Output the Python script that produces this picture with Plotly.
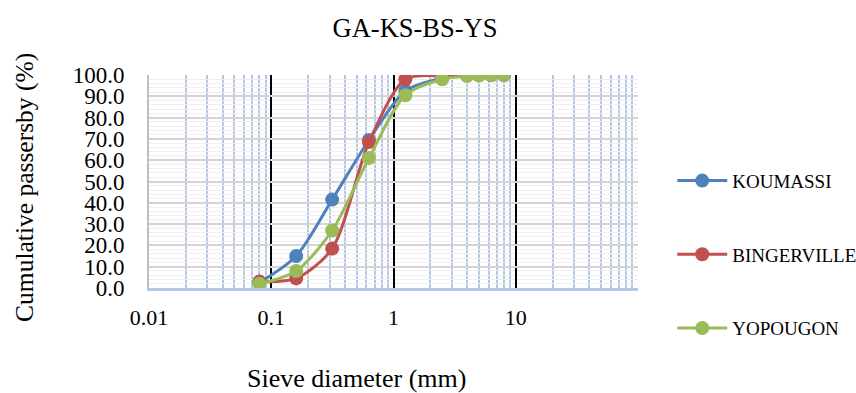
import plotly.graph_objects as go

sieve_mm = [0.08, 0.16, 0.315, 0.63, 1.25, 2.5, 4, 5, 6.3, 8]
koumassi = [2.5, 15.0, 41.5, 69.5, 92.5, 98.5, 99.8, 100.0, 100.0, 100.0]
bingerville = [3.0, 4.5, 18.5, 68.5, 98.0, 99.7, 100.0, 100.0, 100.0, 100.0]
yopougon = [2.0, 8.0, 27.0, 61.0, 90.5, 98.0, 99.5, 99.8, 100.0, 100.0]

series_names = ["KOUMASSI", "BINGERVILLE", "YOPOUGON"]
series_colors = ["#4F81BD", "#C0504D", "#9BBB59"]
x_tickvals = [0.01, 0.1, 1, 10]
x_ticktext = ["0.01", "0.1", "1", "10"]

FONT = "Liberation Serif, Times New Roman, serif"

fig = go.Figure()
for i, (name, vals, col) in enumerate(zip(series_names, [koumassi, bingerville, yopougon], series_colors)):
    fig.add_trace(go.Scatter(
        x=sieve_mm, y=vals, name=name, mode="lines+markers",
        line=dict(color=col, width=3, shape="spline", smoothing=0.8),
        marker=dict(color=col, size=14, symbol="circle"),
        legendgroup=name,
    ))

fig.update_layout(
    width=856, height=393,
    margin=dict(l=149, r=218, t=75, b=105, autoexpand=False),
    paper_bgcolor="white", plot_bgcolor="white",
    font=dict(family=FONT, color="black", size=22),
    title=dict(text="GA-KS-BS-YS", x=415/856, xref="container", xanchor="center",
               y=1-28/393, yref="container", yanchor="middle",
               font=dict(size=26.5, family=FONT, color="black")),
    showlegend=True,
    legend=dict(x=1.07, xanchor="left", y=0.156, yanchor="middle",
                font=dict(size=19, family=FONT), itemwidth=50,
                tracegroupgap=46, traceorder="grouped",
                bgcolor="rgba(0,0,0,0)"),
    annotations=[
        dict(text="Sieve diameter (mm)", xref="paper", yref="paper",
             x=(356-149)/489, y=(288-378)/212.8, xanchor="center", yanchor="middle",
             showarrow=False, font=dict(size=26, family=FONT)),
        dict(text="Cumulative passersby (%)", xref="paper", yref="paper",
             x=(25-149)/489, y=(288-188)/212.8, xanchor="center", yanchor="middle",
             textangle=-90, showarrow=False, font=dict(size=25.5, family=FONT)),
    ],
)

fig.update_xaxes(
    type="log", range=[-2, 2],
    tickvals=x_tickvals, ticktext=x_ticktext,
    showgrid=True, gridcolor="black", gridwidth=2,
    showline=True, linecolor="#B4C7E7", linewidth=3,
    ticks="", ticklabelstandoff=8,
    tickfont=dict(size=22, family=FONT),
    minor=dict(dtick="D1", showgrid=True, gridcolor="#B4C7E7", gridwidth=2, ticks=""),
    zeroline=False,
)
fig.update_yaxes(
    range=[0, 100], dtick=10, tickformat=".1f",
    showgrid=True, gridcolor="#D4D4D4", gridwidth=2,
    showline=True, linecolor="#BFBFBF", linewidth=2,
    ticks="", ticklabelstandoff=18,
    tickfont=dict(size=23, family=FONT),
    minor=dict(dtick=2, showgrid=True, gridcolor="#EEEEEE", gridwidth=1, ticks=""),
    zeroline=False,
)

fig.write_html("out.html")
